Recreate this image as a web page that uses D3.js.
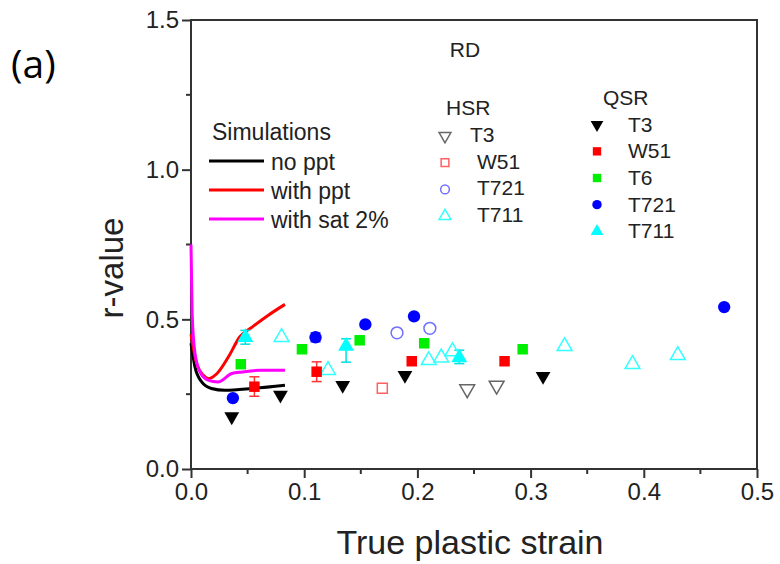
<!DOCTYPE html>
<html>
<head>
<meta charset="utf-8">
<script src="https://cdn.jsdelivr.net/npm/d3@7"></script>
<style>
  body { margin: 0; background: #fff; }
  svg { display: block; font-family: "Liberation Sans", Arial, sans-serif; }
</style>
</head>
<body>
<svg id="chart" width="780" height="564"></svg>
<script>
// ---- data ----
var xTicks = [0.0, 0.1, 0.2, 0.3, 0.4, 0.5];
var yTicks = [0.0, 0.5, 1.0, 1.5];

// simulations [strain, r]
var simNoPpt = [[0,0.42],[0.0035,0.341],[0.0094,0.291],[0.018,0.269],[0.030,0.263],[0.054,0.269],[0.083,0.28]];
var simWithPpt = [[0,0.45],[0.005,0.352],[0.011,0.313],[0.015,0.302],[0.023,0.319],[0.033,0.374],[0.043,0.441],[0.054,0.474],[0.068,0.513],[0.083,0.55]];
var simSat2 = [[0,0.75],[0.001,0.52],[0.0035,0.387],[0.008,0.324],[0.015,0.297],[0.024,0.291],[0.036,0.319],[0.045,0.324],[0.062,0.33],[0.083,0.33]];

// QSR experiments
var qsrT3 = [[0.036,0.175],[0.079,0.247],[0.134,0.28],[0.189,0.313],[0.311,0.31]];
var qsrW51 = [[0.056,0.275],[0.111,0.325],[0.195,0.36],[0.277,0.36]];
var qsrT6 = [[0.044,0.35],[0.098,0.40],[0.149,0.43],[0.206,0.42],[0.293,0.40]];
var qsrT721 = [[0.037,0.237],[0.110,0.44],[0.154,0.483],[0.197,0.51],[0.471,0.541]];
var qsrT711 = [[0.048,0.44],[0.137,0.41],[0.237,0.372]];

// HSR experiments
var hsrT3 = [[0.244,0.267],[0.270,0.279]];
var hsrW51 = [[0.169,0.27]];
var hsrT721 = [[0.182,0.455],[0.211,0.47]];
var hsrT711 = [[0.080,0.44],[0.121,0.33],[0.210,0.363],[0.221,0.372],[0.231,0.393],[0.330,0.41],[0.390,0.35],[0.430,0.38]];

// error bars [strain, low, high]
var errW51 = [[0.056,0.243,0.308],[0.111,0.292,0.358]];
var errT711 = [[0.048,0.417,0.463],[0.137,0.357,0.435],[0.237,0.352,0.397]];
var errT721 = [[0.110,0.425,0.455]];

var margin = { top: 20, right: 23, bottom: 95, left: 191 };
var width = 780, height = 564;
var innerWidth = width - margin.left - margin.right;
var innerHeight = height - margin.top - margin.bottom;

var svg = d3.select("#chart");

var x = d3.scaleLinear().domain([0, 0.5]).range([margin.left, margin.left + innerWidth]);
var y = d3.scaleLinear().domain([0, 1.5]).range([margin.top + innerHeight, margin.top]);

var axisColor = "#333";

// minor ticks
var xMinor = d3.range(0.05, 0.5, 0.1);
var yMinor = [0.25, 0.75, 1.25];

// x axis
var xAxis = svg.append("g")
    .attr("transform", "translate(0," + y(0) + ")")
    .call(d3.axisBottom(x).tickValues(xTicks).tickFormat(d3.format(".1f")).tickSize(9).tickSizeOuter(0));
xAxis.select(".domain").remove();
xAxis.selectAll("line").attr("stroke", axisColor).attr("stroke-width", 2);
xAxis.selectAll("text").attr("font-size", 24).attr("fill", "#222").attr("y", 14).attr("font-family", "Liberation Sans, Arial, sans-serif");

svg.append("g").selectAll("line").data(xMinor).join("line")
    .attr("x1", d => x(d)).attr("x2", d => x(d))
    .attr("y1", y(0)).attr("y2", y(0) + 5)
    .attr("stroke", axisColor).attr("stroke-width", 2);

// y axis
var yAxis = svg.append("g")
    .attr("transform", "translate(" + x(0) + ",0)")
    .call(d3.axisLeft(y).tickValues(yTicks).tickFormat(d3.format(".1f")).tickSize(9).tickSizeOuter(0));
yAxis.select(".domain").remove();
yAxis.selectAll("line").attr("stroke", axisColor).attr("stroke-width", 2);
yAxis.selectAll("text").attr("font-size", 24).attr("fill", "#222").attr("x", -12).attr("font-family", "Liberation Sans, Arial, sans-serif");

svg.append("g").selectAll("line").data(yMinor).join("line")
    .attr("x1", x(0) - 5).attr("x2", x(0))
    .attr("y1", d => y(d)).attr("y2", d => y(d))
    .attr("stroke", axisColor).attr("stroke-width", 2);

// frame: four edges
var frame = [
    [x(0), y(0), x(0), y(1.5)],
    [x(0), y(1.5), x(0.5), y(1.5)],
    [x(0.5), y(1.5), x(0.5), y(0)],
    [x(0), y(0), x(0.5), y(0)]
];
svg.append("g").selectAll("line").data(frame).join("line")
    .attr("x1", d => d[0]).attr("y1", d => d[1])
    .attr("x2", d => d[2]).attr("y2", d => d[3])
    .attr("stroke", axisColor).attr("stroke-width", 2).attr("stroke-linecap", "square");

// axis titles
svg.append("text")
    .attr("x", 470).attr("y", 554)
    .attr("text-anchor", "middle").attr("font-size", 34).attr("fill", "#222")
    .text("True plastic strain");

svg.append("text")
    .attr("transform", "translate(123," + 268 + ") rotate(-90)")
    .attr("text-anchor", "middle").attr("font-size", 33).attr("fill", "#222")
    .text("r-value");

svg.append("text")
    .attr("x", 11).attr("y", 78)
    .attr("font-family", "Open Sans, sans-serif").attr("font-size", 39).attr("fill", "#000")
    .text("(a)");

svg.append("text")
    .attr("x", 465).attr("y", 57)
    .attr("text-anchor", "middle").attr("font-size", 21).attr("fill", "#222")
    .text("RD");

// simulation curves
var line = d3.line().x(d => x(d[0])).y(d => y(d[1])).curve(d3.curveMonotoneX);
var sims = [
    { data: simNoPpt, color: "#000000", label: "no ppt" },
    { data: simWithPpt, color: "#ff0000", label: "with ppt" },
    { data: simSat2, color: "#ff00ff", label: "with sat 2%" }
];
sims.forEach(function(s) {
    svg.append("path")
        .datum(s.data)
        .attr("d", line)
        .attr("fill", "none")
        .attr("stroke", s.color)
        .attr("stroke-width", 3);
});

// error bars
function drawErr(arr, color) {
    var g = svg.append("g").attr("stroke", color).attr("stroke-width", 1.5);
    arr.forEach(function(e) {
        g.append("line").attr("x1", x(e[0])).attr("x2", x(e[0])).attr("y1", y(e[1])).attr("y2", y(e[2]));
        g.append("line").attr("x1", x(e[0]) - 5).attr("x2", x(e[0]) + 5).attr("y1", y(e[1])).attr("y2", y(e[1]));
        g.append("line").attr("x1", x(e[0]) - 5).attr("x2", x(e[0]) + 5).attr("y1", y(e[2])).attr("y2", y(e[2]));
    });
}
drawErr(errW51, "#ff3333");
drawErr(errT711, "#00e0e0");
drawErr(errT721, "#3333ff");

// markers
function symbolPath(type, size) {
    return d3.symbol().type(type).size(size)();
}
function drawPoints(arr, type, size, fill, stroke, down) {
    svg.append("g").selectAll("path").data(arr).join("path")
        .attr("transform", d => "translate(" + x(d[0]) + "," + y(d[1]) + ")" + (down ? " rotate(180)" : ""))
        .attr("d", symbolPath(type, size))
        .attr("fill", fill)
        .attr("stroke", stroke)
        .attr("stroke-width", 1.5);
}

var hsrSeries = [
    { data: hsrT3, label: "T3", type: d3.symbolTriangle, size: 95, fill: "none", stroke: "#666666", down: true, lx: 470 },
    { data: hsrW51, label: "W51", type: d3.symbolSquare, size: 100, fill: "none", stroke: "#ff6060", down: false, lx: 477 },
    { data: hsrT721, label: "T721", type: d3.symbolCircle, size: 110, fill: "none", stroke: "#7070ff", down: false, lx: 477 },
    { data: hsrT711, label: "T711", type: d3.symbolTriangle, size: 95, fill: "none", stroke: "#33ffff", down: false, lx: 477 }
];
var qsrSeries = [
    { data: qsrT3, label: "T3", type: d3.symbolTriangle, size: 95, fill: "#000000", stroke: "none", down: true },
    { data: qsrW51, label: "W51", type: d3.symbolSquare, size: 110, fill: "#ff0000", stroke: "none", down: false },
    { data: qsrT6, label: "T6", type: d3.symbolSquare, size: 110, fill: "#00ee00", stroke: "none", down: false },
    { data: qsrT721, label: "T721", type: d3.symbolCircle, size: 120, fill: "#0000ff", stroke: "none", down: false },
    { data: qsrT711, label: "T711", type: d3.symbolTriangle, size: 110, fill: "#00ffff", stroke: "none", down: false }
];

hsrSeries.forEach(s => drawPoints(s.data, s.type, s.size, s.fill, s.stroke, s.down));
qsrSeries.forEach(s => drawPoints(s.data, s.type, s.size, s.fill, s.stroke, s.down));

// legends
var legFont = 21;
svg.append("text").attr("x", 446).attr("y", 115).attr("font-size", legFont).attr("fill", "#222").text("HSR");
hsrSeries.forEach(function(s, i) {
    var by = 142 + i * 26.7;
    svg.append("path")
        .attr("transform", "translate(445," + (by - 6) + ")" + (s.down ? " rotate(180)" : ""))
        .attr("d", symbolPath(s.type, 60))
        .attr("fill", s.fill).attr("stroke", s.stroke).attr("stroke-width", 1.5);
    svg.append("text").attr("x", s.lx).attr("y", by).attr("font-size", legFont).attr("fill", "#222").text(s.label);
});

svg.append("text").attr("x", 603).attr("y", 105).attr("font-size", legFont).attr("fill", "#222").text("QSR");
qsrSeries.forEach(function(s, i) {
    var by = 131.7 + i * 26.65;
    svg.append("path")
        .attr("transform", "translate(597," + (by - 7) + ")" + (s.down ? " rotate(180)" : ""))
        .attr("d", symbolPath(s.type, 70))
        .attr("fill", s.fill).attr("stroke", s.stroke).attr("stroke-width", 1.5);
    svg.append("text").attr("x", 628).attr("y", by).attr("font-size", legFont).attr("fill", "#222").text(s.label);
});

svg.append("text").attr("x", 212).attr("y", 140).attr("font-size", 23).attr("fill", "#222").text("Simulations");
sims.forEach(function(s, i) {
    var by = 170 + i * 29;
    svg.append("line")
        .attr("x1", 209).attr("x2", 264)
        .attr("y1", by - 9).attr("y2", by - 9)
        .attr("stroke", s.color).attr("stroke-width", 3);
    svg.append("text").attr("x", 271).attr("y", by).attr("font-size", 23).attr("fill", "#222").text(s.label);
});
</script>
</body>
</html>
